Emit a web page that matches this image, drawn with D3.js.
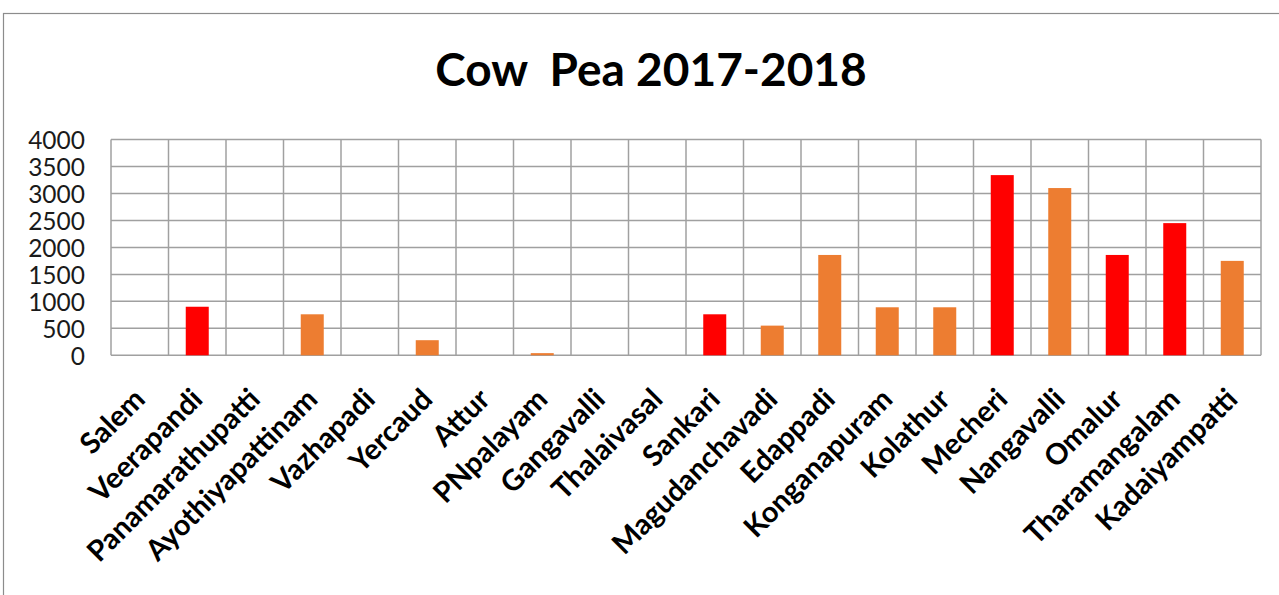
<!DOCTYPE html>
<html>
<head>
<meta charset="utf-8">
<script src="https://cdn.jsdelivr.net/npm/d3@7"></script>
<style>
  html, body { margin: 0; padding: 0; background: #fff; }
  svg { display: block; }
</style>
</head>
<body>
<svg id="chart" width="1279" height="595"></svg>
<script>
// Cow pea area by block, 2017-2018
const blocks = ["Salem", "Veerapandi", "Panamarathupatti", "Ayothiyapattinam", "Vazhapadi",
  "Yercaud", "Attur", "PNpalayam", "Gangavalli", "Thalaivasal", "Sankari", "Magudanchavadi",
  "Edappadi", "Konganapuram", "Kolathur", "Mecheri", "Nangavalli", "Omalur",
  "Tharamangalam", "Kadaiyampatti"];
const values = [0, 900, 0, 760, 0, 280, 0, 40, 0, 0, 760, 550, 1860, 890, 890, 3340, 3100, 1860, 2450, 1750];
const barColors = ["#ED7D31", "#FF0000", "#ED7D31", "#ED7D31", "#ED7D31", "#ED7D31", "#ED7D31",
  "#ED7D31", "#ED7D31", "#ED7D31", "#FF0000", "#ED7D31", "#ED7D31", "#ED7D31", "#ED7D31",
  "#FF0000", "#ED7D31", "#FF0000", "#FF0000", "#ED7D31"];
const yTicks = [0, 500, 1000, 1500, 2000, 2500, 3000, 3500, 4000];
const titleText = "Cow  Pea 2017-2018";

const svg = d3.select("#chart");
const plot = { left: 111, right: 1261, top: 139.5, bottom: 355.3 };
const gridColor = "#a0a0a0";
const font = "Lato, 'Open Sans', sans-serif";

// outer chart frame
svg.append("rect")
  .attr("x", 3.5).attr("y", 13.5)
  .attr("width", 1400).attr("height", 700)
  .attr("fill", "none").attr("stroke", "#8c8c8c").attr("stroke-width", 1.2);

// title
svg.append("text")
  .attr("x", 651).attr("y", 86)
  .attr("text-anchor", "middle")
  .attr("font-family", font).attr("font-weight", "bold")
  .attr("font-size", 46)
  .attr("fill", "#000")
  .style("white-space", "pre")
  .text(titleText);

const x = d3.scaleBand().domain(blocks).range([plot.left, plot.right]).paddingInner(0).paddingOuter(0);
const y = d3.scaleLinear().domain([0, 4000]).range([plot.bottom, plot.top]);

// horizontal gridlines
svg.append("g").selectAll("line").data(yTicks).join("line")
  .attr("x1", plot.left).attr("x2", plot.right)
  .attr("y1", d => y(d)).attr("y2", d => y(d))
  .attr("stroke", gridColor).attr("stroke-width", 1.5);

// vertical gridlines at category boundaries
const bounds = blocks.map(b => x(b)).concat([plot.right]);
svg.append("g").selectAll("line").data(bounds).join("line")
  .attr("x1", d => d).attr("x2", d => d)
  .attr("y1", plot.top).attr("y2", plot.bottom)
  .attr("stroke", gridColor).attr("stroke-width", 1.5);

// bars
const barW = 23;
svg.append("g").selectAll("rect").data(blocks).join("rect")
  .attr("x", (d) => x(d) + x.bandwidth() / 2 - barW / 2)
  .attr("width", barW)
  .attr("y", (d, i) => y(values[i]))
  .attr("height", (d, i) => y(0) - y(values[i]))
  .attr("fill", (d, i) => barColors[i]);

// y axis labels
const yAxis = d3.axisLeft(y).tickValues(yTicks).tickSize(0).tickPadding(0).tickFormat(d3.format("d"));
const yg = svg.append("g").attr("transform", `translate(85,0)`).call(yAxis);
yg.select(".domain").remove();
yg.selectAll("text")
  .attr("font-family", font).attr("font-size", 24.5).attr("fill", "#1a1a1a")
  .attr("dy", "0.36em");

// x axis labels, rotated
const xg = svg.append("g");
xg.selectAll("text").data(blocks).join("text")
  .attr("transform", d => `translate(${x(d) + x.bandwidth() / 2 + 7},401) rotate(-45)`)
  .attr("text-anchor", "end")
  .attr("font-family", font).attr("font-weight", "bold").attr("font-size", 29)
  .attr("fill", "#000")
  .text(d => d);
</script>
</body>
</html>
